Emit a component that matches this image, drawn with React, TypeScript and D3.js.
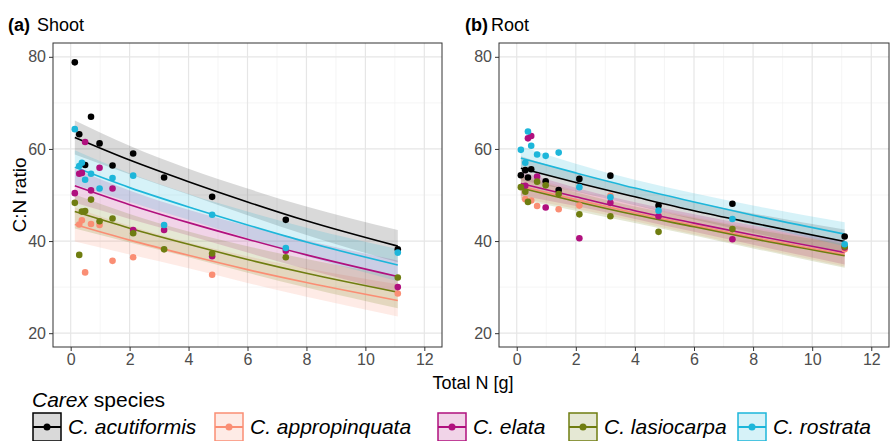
import React, { useEffect, useRef } from "react";
import * as d3 from "d3";

// N supply levels (g), shared by both panels
const nLevels = [0.14, 0.29, 0.38, 0.49, 0.69, 0.98, 1.42, 2.12, 3.17, 4.8, 7.3, 11.1];

const species = ["C. acutiformis", "C. appropinquata", "C. elata", "C. lasiocarpa", "C. rostrata"];
const speciesColors = ["#000000", "#FA8E74", "#B0107E", "#6F7D10", "#1DB6DA"];

// (a) shoot C:N, one value per N level (null = not visible)
const shootAcutiformis = [78.8, 63.2, null, 56.5, 67.0, 61.2, 56.4, 59.0, 53.8, 49.6, 44.6, 38.2];
const shootAppropinquata = [null, 43.6, 44.5, 33.2, 43.7, 43.5, 35.7, 36.5, null, 32.7, null, 28.6];
const shootElata = [50.4, 54.6, 54.8, 61.5, 51.0, 55.9, 51.4, 42.4, 42.4, 36.7, 37.9, 30.0];
const shootLasiocarpa = [48.3, 37.0, 46.4, 46.5, 49.0, 44.3, 44.9, 41.7, 38.2, 37.3, 36.5, 32.1];
const shootRostrata = [64.3, 56.3, 57.0, 53.3, 54.6, 51.4, 53.7, 54.2, 43.5, 45.7, 38.5, 37.5];

// (b) root C:N
const rootAcutiformis = [54.3, 55.4, 53.8, 55.6, null, 53.0, 51.1, 53.5, 54.2, 47.7, 48.1, 41.0];
const rootAppropinquata = [null, 49.1, null, 48.8, 47.6, null, 46.9, 47.7, 49.8, null, null, 38.2];
const rootElata = [null, 52.0, 62.3, 62.8, 54.0, 47.3, null, 40.6, 48.3, 45.4, 40.4, 38.6];
const rootLasiocarpa = [51.7, 50.7, 48.5, null, 52.9, 52.1, 50.2, 45.8, 45.4, 42.0, 42.6, 38.8];
const rootRostrata = [59.8, 57.0, 63.8, 60.7, 58.8, 58.5, 59.2, 51.7, 49.5, 46.6, 44.8, 39.3];

// fitted curves, read at these N values
const fitX = [0.14, 2, 4, 6, 8, 11.1];
const shootFitAcutiformis = [62.5, 57.6, 52.9, 48.5, 44.4, 38.9];
const shootFitAppropinquata = [43.6, 40.2, 36.9, 33.8, 31.0, 27.1];
const shootFitElata = [52.0, 47.9, 44.0, 40.4, 37.0, 32.3];
const shootFitLasiocarpa = [46.4, 42.8, 39.3, 36.0, 33.0, 28.9];
const shootFitRostrata = [56.0, 51.6, 47.4, 43.5, 39.8, 34.8];
const shootCI = [3.7, 3.1, 2.8, 2.9, 3.1, 3.5];

const rootFitAcutiformis = [55.8, 52.7, 49.6, 46.6, 43.9, 39.9];
const rootFitAppropinquata = [51.9, 49.0, 46.1, 43.4, 40.8, 37.1];
const rootFitElata = [52.5, 49.6, 46.6, 43.9, 41.3, 37.5];
const rootFitLasiocarpa = [51.5, 48.6, 45.7, 43.1, 40.5, 36.8];
const rootFitRostrata = [58.0, 54.8, 51.5, 48.5, 45.6, 41.5];
const rootCI = [2.6, 2.0, 1.8, 1.9, 2.1, 2.6];

const xTicks = [0, 2, 4, 6, 8, 10, 12];
const yTicks = [20, 40, 60, 80];

const panels = [
  {
    tag: "(a)",
    title: "Shoot",
    points: [shootAcutiformis, shootAppropinquata, shootElata, shootLasiocarpa, shootRostrata],
    fits: [shootFitAcutiformis, shootFitAppropinquata, shootFitElata, shootFitLasiocarpa, shootFitRostrata],
    ci: shootCI,
  },
  {
    tag: "(b)",
    title: "Root",
    points: [rootAcutiformis, rootAppropinquata, rootElata, rootLasiocarpa, rootRostrata],
    fits: [rootFitAcutiformis, rootFitAppropinquata, rootFitElata, rootFitLasiocarpa, rootFitRostrata],
    ci: rootCI,
  },
];

const FONT = "'Liberation Sans', Arial, sans-serif";

function App() {
  const svgRef = useRef(null);

  useEffect(() => {
    const svg = d3.select(svgRef.current);
    svg.selectAll("*").remove();

    const top = 43, bottom = 347;
    const lefts = [53, 499];
    const widths = [389, 390];

    const y = d3.scaleLinear().domain([17, 83]).range([bottom, top]);

    panels.forEach((p, pi) => {
      const x = d3.scaleLinear().domain([-0.6, 12.6]).range([lefts[pi], lefts[pi] + widths[pi]]);
      const g = svg.append("g");

      // grid
      const minorX = [1, 3, 5, 7, 9, 11];
      const minorY = [30, 50, 70];
      g.selectAll(".mx").data(minorX).join("line")
        .attr("x1", d => x(d)).attr("x2", d => x(d)).attr("y1", top).attr("y2", bottom)
        .attr("stroke", "#f0f0f0").attr("stroke-width", 0.7);
      g.selectAll(".my").data(minorY).join("line")
        .attr("x1", x.range()[0]).attr("x2", x.range()[1]).attr("y1", d => y(d)).attr("y2", d => y(d))
        .attr("stroke", "#f0f0f0").attr("stroke-width", 0.7);
      g.append("g").selectAll("line").data(xTicks).join("line")
        .attr("x1", d => x(d)).attr("x2", d => x(d)).attr("y1", top).attr("y2", bottom)
        .attr("stroke", "#e6e6e6").attr("stroke-width", 1.2);
      g.append("g").selectAll("line").data(yTicks).join("line")
        .attr("x1", x.range()[0]).attr("x2", x.range()[1]).attr("y1", d => y(d)).attr("y2", d => y(d))
        .attr("stroke", "#e6e6e6").attr("stroke-width", 1.2);

      // ribbons
      const area = d3.area<number>()
        .x((_, i) => x(fitX[i]))
        .y0((d, i) => y(d - p.ci[i]))
        .y1((d, i) => y(d + p.ci[i]))
        .curve(d3.curveMonotoneX);
      g.append("g").selectAll("path").data(p.fits).join("path")
        .attr("d", d => area(d))
        .attr("fill", (_, i) => speciesColors[i])
        .attr("fill-opacity", (_, i) => (i === 0 ? 0.15 : 0.18));

      // fitted lines
      const line = d3.line<number>()
        .x((_, i) => x(fitX[i]))
        .y(d => y(d))
        .curve(d3.curveMonotoneX);
      g.append("g").selectAll("path").data(p.fits).join("path")
        .attr("d", d => line(d))
        .attr("fill", "none")
        .attr("stroke", (_, i) => speciesColors[i])
        .attr("stroke-width", 1.6);

      // points
      p.points.forEach((vals, si) => {
        const pts = vals.map((v, i) => ({ n: nLevels[i], v })).filter(d => d.v !== null);
        g.append("g").selectAll("circle").data(pts).join("circle")
          .attr("cx", d => x(d.n))
          .attr("cy", d => y(d.v as number))
          .attr("r", 3.3)
          .attr("fill", speciesColors[si]);
      });

      // border
      g.append("rect")
        .attr("x", x.range()[0]).attr("y", top)
        .attr("width", widths[pi]).attr("height", bottom - top)
        .attr("fill", "none").attr("stroke", "#333333").attr("stroke-width", 1);

      // axes
      const xAxis = d3.axisBottom(x).tickValues(xTicks).tickSize(4).tickSizeOuter(0).tickPadding(3);
      const ax = g.append("g").attr("transform", `translate(0, ${bottom})`).call(xAxis);
      const yAxis = d3.axisLeft(y).tickValues(yTicks).tickSize(4).tickSizeOuter(0).tickPadding(3);
      const ay = g.append("g").attr("transform", `translate(${x.range()[0]}, 0)`).call(yAxis);
      [ax, ay].forEach(a => {
        a.select(".domain").remove();
        a.selectAll("line").attr("stroke", "#333333");
        a.selectAll("text").attr("fill", "#4d4d4d").attr("font-size", 16).attr("font-family", FONT);
      });

      // panel title
      const tx = pi === 0 ? 8 : 465;
      const t = g.append("text").attr("x", tx).attr("y", 31)
        .attr("font-family", FONT).attr("font-size", 18).attr("fill", "#000");
      t.append("tspan").attr("font-weight", "bold").text(p.tag);
      t.append("tspan").attr("dx", pi === 0 ? 7 : 3).text(p.title);
    });

    // axis titles
    svg.append("text")
      .attr("transform", `translate(26, ${(top + bottom) / 2}) rotate(-90)`)
      .attr("text-anchor", "middle")
      .attr("font-family", FONT).attr("font-size", 19)
      .text("C:N ratio");
    svg.append("text")
      .attr("x", 473).attr("y", 389)
      .attr("text-anchor", "middle")
      .attr("font-family", FONT).attr("font-size", 18)
      .text("Total N [g]");

    // legend
    const legTitle = svg.append("text").attr("x", 32).attr("y", 407)
      .attr("font-family", FONT).attr("font-size", 21);
    legTitle.append("tspan").attr("font-style", "italic").text("Carex");
    legTitle.append("tspan").text(" species");

    const keyX = [33, 215, 438, 569, 738];
    const keyY = 413, keySize = 28;
    const legend = svg.append("g").selectAll("g").data(species).join("g")
      .attr("transform", (_, i) => `translate(${keyX[i]}, ${keyY})`);
    legend.append("rect")
      .attr("width", keySize).attr("height", keySize)
      .attr("fill", (_, i) => speciesColors[i])
      .attr("fill-opacity", (_, i) => (i === 0 ? 0.15 : 0.18))
      .attr("stroke", (_, i) => speciesColors[i]).attr("stroke-width", 1.5);
    legend.append("line")
      .attr("x1", 0).attr("x2", keySize).attr("y1", keySize / 2).attr("y2", keySize / 2)
      .attr("stroke", (_, i) => speciesColors[i]).attr("stroke-width", 2);
    legend.append("circle")
      .attr("cx", keySize / 2).attr("cy", keySize / 2).attr("r", 3.5)
      .attr("fill", (_, i) => speciesColors[i]);
    legend.append("text")
      .attr("x", keySize + 7).attr("y", 21)
      .attr("font-family", FONT).attr("font-size", 21).attr("font-style", "italic")
      .text(d => d);
  }, []);

  return (
    <svg ref={svgRef} width={894} height={441}
      style={{ position: "absolute", left: 0, top: 0, background: "#fff" }} />
  );
}

export default App;
